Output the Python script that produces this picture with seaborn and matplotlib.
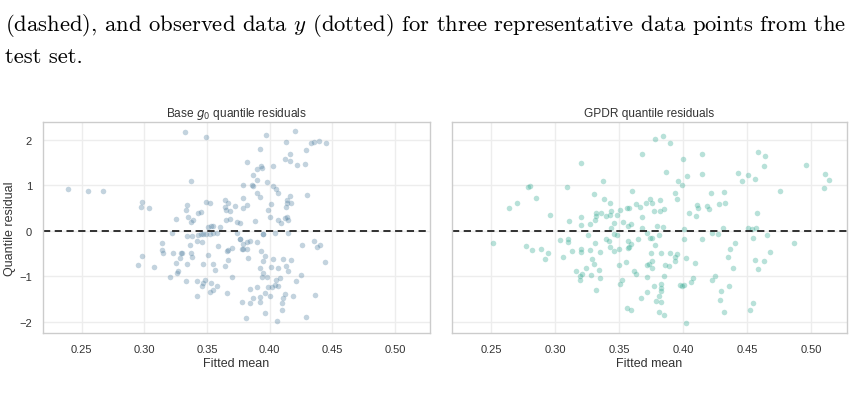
import numpy as np
import matplotlib
matplotlib.use("Agg")
import matplotlib.pyplot as plt
import seaborn as sns

# ---- data ----
base_x = [0.332, 0.349, 0.397, 0.420, 0.239, 0.255, 0.267, 0.392, 0.413, 0.433,
          0.435, 0.439, 0.445, 0.429, 0.416, 0.412, 0.416, 0.422, 0.428, 0.382,
          0.393, 0.394, 0.390, 0.403, 0.390, 0.387, 0.398, 0.337, 0.386, 0.387,
          0.379, 0.403, 0.405, 0.407, 0.390, 0.392, 0.379, 0.430, 0.416, 0.414,
          0.417, 0.414, 0.413, 0.298, 0.297, 0.304, 0.334, 0.333, 0.349, 0.352,
          0.345, 0.343, 0.335, 0.339, 0.337, 0.325, 0.364, 0.367, 0.372, 0.364,
          0.365, 0.368, 0.382, 0.379, 0.401, 0.399, 0.400, 0.388, 0.374, 0.376,
          0.368, 0.365, 0.407, 0.409, 0.412, 0.414, 0.415, 0.351, 0.353, 0.355,
          0.360,
          0.322, 0.334, 0.338, 0.343, 0.345, 0.347, 0.349, 0.352, 0.355, 0.358,
          0.342, 0.346, 0.336, 0.314, 0.314, 0.315, 0.323, 0.329, 0.330, 0.337,
          0.298, 0.295, 0.328, 0.325, 0.334, 0.338, 0.347, 0.355, 0.351, 0.359,
          0.367, 0.366, 0.370, 0.367, 0.376, 0.378, 0.379, 0.382, 0.383, 0.379,
          0.382, 0.384, 0.390, 0.393, 0.396, 0.395, 0.395, 0.403, 0.411, 0.417,
          0.415, 0.404, 0.426, 0.435, 0.438, 0.440, 0.444, 0.374, 0.376, 0.395,
          0.308, 0.356, 0.364, 0.320, 0.326, 0.327, 0.333, 0.342, 0.348, 0.347,
          0.346, 0.353, 0.358, 0.355, 0.352, 0.342, 0.366, 0.370, 0.378, 0.381,
          0.384, 0.384, 0.387, 0.390, 0.392, 0.392, 0.396, 0.396, 0.399, 0.400,
          0.402, 0.404, 0.407, 0.408, 0.405, 0.412, 0.411, 0.410, 0.410, 0.406,
          0.419, 0.421, 0.425, 0.429, 0.436, 0.395, 0.398, 0.394, 0.401, 0.407,
          0.413, 0.415, 0.392]
base_y = [2.18, 2.06, 2.10, 2.19, 0.92, 0.87, 0.88, 1.81, 1.96, 1.94,
          1.96, 1.98, 1.94, 1.77, 1.69, 1.58, 1.54, 1.45, 1.46, 1.51,
          1.43, 1.38, 1.36, 1.43, 1.11, 1.23, 1.08, 1.09, 1.00, 0.99,
          1.01, 0.98, 0.92, 0.84, 0.84, 0.74, 0.73, 0.78, 0.77, 0.67,
          0.62, 0.61, 0.52, 0.64, 0.53, 0.51, 0.57, 0.45, 0.64, 0.61,
          0.42, 0.40, 0.31, 0.24, 0.19, 0.26, 0.68, 0.62, 0.55, 0.53,
          0.46, 0.44, 0.56, 0.51, 0.59, 0.45, 0.31, 0.22, 0.20, 0.16,
          0.25, 0.23, 0.23, 0.18, 0.28, 0.31, 0.24, 0.09, 0.10, 0.11,
          0.08,
          -0.05, -0.12, -0.12, -0.10, -0.08, -0.07, -0.07, -0.08, -0.06, -0.05,
          -0.23, -0.24, -0.32, -0.28, -0.42, -0.50, -0.48, -0.48, -0.49, -0.49,
          -0.56, -0.76, -0.59, -0.70, -0.73, -0.57, -0.73, -0.74, -0.53, -0.34,
          -0.43, -0.45, -0.37, -0.65, -0.19, -0.41, -0.41, -0.41, -0.60, -0.30,
          -0.24, -0.23, -0.25, -0.45, -0.56, -0.67, -0.08, -0.63, -0.63, -0.64,
          -0.06, -0.05, -0.31, -0.23, -0.36, -0.31, -0.68, -0.06, -0.18, -0.07,
          -0.80, -0.86, -0.78, -1.02, -0.92, -0.89, -1.10, -1.11, -1.09, -1.14,
          -1.22, -1.14, -1.22, -1.30, -1.34, -1.43, -1.37, -1.02, -1.57, -1.93,
          -1.60, -1.28, -1.48, -1.23, -1.46, -1.57, -1.36, -1.82, -1.23, -1.43,
          -1.23, -1.20, -1.22, -1.03, -1.08, -1.40, -1.49, -1.60, -1.75, -1.98,
          -1.43, -1.10, -0.97, -1.90, -1.41, -0.92, -1.01, -1.01, -0.80, -0.83,
          -0.78, -0.88, -0.82]

gpdr_x = [0.378, 0.384, 0.390, 0.368, 0.415, 0.459, 0.464, 0.463, 0.496, 0.400,
          0.320, 0.387, 0.415, 0.403, 0.396, 0.399, 0.337, 0.443, 0.446, 0.451,
          0.456, 0.279, 0.280, 0.309, 0.360, 0.394, 0.422, 0.432, 0.476, 0.511,
          0.514, 0.510, 0.454,
          0.264, 0.270, 0.285, 0.296, 0.311, 0.320, 0.320, 0.327, 0.330, 0.332,
          0.332, 0.331, 0.336, 0.338, 0.343, 0.344, 0.340, 0.343, 0.348, 0.346,
          0.344, 0.351, 0.356, 0.358, 0.353, 0.357, 0.359, 0.363, 0.366, 0.368,
          0.368, 0.371, 0.374, 0.376, 0.382, 0.385, 0.382, 0.377, 0.380, 0.384,
          0.395, 0.405, 0.411, 0.412, 0.410, 0.419, 0.420, 0.428, 0.433, 0.401,
          0.431, 0.451, 0.457, 0.458,
          0.251, 0.277, 0.282, 0.289, 0.294, 0.292, 0.304, 0.310, 0.310, 0.306,
          0.313, 0.320, 0.320, 0.327, 0.326, 0.329, 0.330, 0.335, 0.331, 0.340,
          0.342, 0.346, 0.348, 0.343, 0.346, 0.350, 0.350, 0.355, 0.357, 0.359,
          0.358, 0.357, 0.365, 0.372, 0.374, 0.376, 0.381, 0.378, 0.375, 0.383,
          0.390, 0.395, 0.394, 0.394, 0.376, 0.373, 0.386, 0.389, 0.401, 0.402,
          0.409, 0.415, 0.423, 0.427, 0.441, 0.437, 0.435, 0.455, 0.466, 0.468,
          0.456, 0.463, 0.487,
          0.316, 0.319, 0.319, 0.321, 0.324, 0.328, 0.334, 0.335, 0.332, 0.352,
          0.351, 0.362, 0.363, 0.372, 0.372, 0.376, 0.385, 0.377, 0.383, 0.383,
          0.383, 0.372, 0.381, 0.367, 0.379, 0.383, 0.356, 0.359, 0.381, 0.385,
          0.402, 0.398, 0.399, 0.401, 0.406, 0.408, 0.423, 0.425, 0.430, 0.436,
          0.429, 0.432, 0.439, 0.452, 0.455, 0.459]
gpdr_y = [2.02, 2.09, 1.93, 1.69, 1.69, 1.73, 1.64, 1.43, 1.44, 1.57,
          1.50, 1.30, 1.25, 1.20, 1.10, 1.00, 1.10, 1.27, 1.10, 1.22,
          1.14, 0.97, 0.99, 0.97, 0.87, 0.84, 0.84, 0.85, 0.87, 1.24,
          1.12, 0.95, 0.03,
          0.49, 0.61, 0.73, 0.35, 0.21, 0.31, 0.13, 0.15, 0.81, 0.38,
          0.32, 0.23, 0.39, 0.70, 0.61, 0.44, 0.32, 0.34, 0.34, 0.17,
          0.07, 0.45, 0.51, 0.51, 0.19, 0.11, 0.14, 0.58, 0.53, 0.30,
          0.05, 0.62, 0.70, 0.62, 0.68, 0.48, 0.43, 0.43, 0.11, 0.08,
          0.70, 0.39, 0.56, 0.49, 0.33, 0.54, 0.48, 0.59, 0.61, 0.04,
          0.05, 0.07, 0.05, 0.38,
          -0.26, -0.33, -0.42, -0.40, -0.49, -0.62, -0.20, -0.18, -0.24, -0.58,
          -0.44, -0.40, -0.47, -0.43, -0.10, -0.62, -0.73, -0.46, -0.28, -0.18,
          -0.23, -0.08, -0.09, -0.36, -0.45, -0.40, -0.75, -0.68, -0.23, -0.29,
          -0.35, -0.39, -0.18, -0.05, -0.15, -0.15, -0.09, -0.31, -0.50, -0.48,
          -0.48, -0.51, -0.57, -0.67, -0.67, -0.74, -0.76, -0.77, -0.18, -0.61,
          -0.70, -0.19, -0.04, -0.07, -0.28, -0.41, -0.58, -0.16, -0.10, -0.47,
          -0.65, -0.67, -0.28,
          -0.89, -0.99, -1.09, -0.96, -0.83, -0.98, -0.86, -1.03, -1.30, -1.08,
          -1.17, -0.89, -0.95, -1.02, -0.75, -0.83, -0.99, -1.22, -1.18, -1.25,
          -1.33, -1.35, -1.44, -1.49, -1.55, -1.56, -1.70, -1.74, -1.79, -1.85,
          -2.04, -1.20, -1.21, -1.19, -1.12, -1.03, -1.08, -1.00, -1.32, -1.21,
          -1.52, -1.78, -0.83, -1.75, -1.60, -0.84]

titles = ["Base $g_0$ quantile residuals", "GPDR quantile residuals"]
xticks = [0.25, 0.30, 0.35, 0.40, 0.45, 0.50]
yticks = [-2, -1, 0, 1, 2]

# ---- style ----
sns.set_theme(style="whitegrid")
plt.rcParams["font.family"] = ["Liberation Sans", "DejaVu Sans"]
plt.rcParams["mathtext.fontset"] = "dejavusans"
plt.rcParams["axes.edgecolor"] = "#cccccc"
plt.rcParams["grid.color"] = "#ededed"

fig = plt.figure(figsize=(8.54, 4.06), dpi=100)
ax1 = fig.add_axes([0.0504, 0.1773, 0.4531, 0.5205])
ax2 = fig.add_axes([0.5289, 0.1773, 0.4625, 0.5205], sharex=ax1, sharey=ax1)

sns.scatterplot(x=base_x, y=base_y, ax=ax1, color="#4a7a9c", alpha=0.33,
                s=16, linewidth=0)
sns.scatterplot(x=gpdr_x, y=gpdr_y, ax=ax2, color="#2aa58c", alpha=0.33,
                s=16, linewidth=0)

for ax, title in zip([ax1, ax2], titles):
    ax.axhline(0, color="#222222", linestyle="--", linewidth=1.3, dashes=(4, 2.5))
    ax.set_title(title, fontsize=8.6, color="#333333", pad=4)
    ax.set_xlabel("Fitted mean", fontsize=9, color="#333333", labelpad=2)
    ax.tick_params(labelsize=8, colors="#333333", pad=2)
    for sp in ax.spines.values():
        sp.set_linewidth(1.0)

ax1.set_xlim(0.219, 0.528)
ax1.set_ylim(-2.25, 2.40)
ax1.set_xticks(xticks)
ax1.set_xticklabels([f"{t:.2f}" for t in xticks])
ax1.set_yticks(yticks)
ax1.set_yticklabels(["\u22122", "\u22121", "0", "1", "2"])
ax1.set_ylabel("Quantile residual", fontsize=9, color="#333333", labelpad=2)
ax2.set_ylabel("")
plt.setp(ax2.get_yticklabels(), visible=False)
ax2.tick_params(axis="y", length=0)

# caption lines from the surrounding page
cap = dict(fontfamily="cmr10", fontsize=16.3, color="black", va="center", ha="left")
plt.rcParams["mathtext.fontset"] = "cm"
fig.text(0.006, 0.938,
         "(dashed), and observed data $y$ (dotted) for three representative data points from the",
         **cap)
fig.text(0.006, 0.858, "test set.", **cap)

plt.savefig("out.png", dpi=100)
plt.close()
